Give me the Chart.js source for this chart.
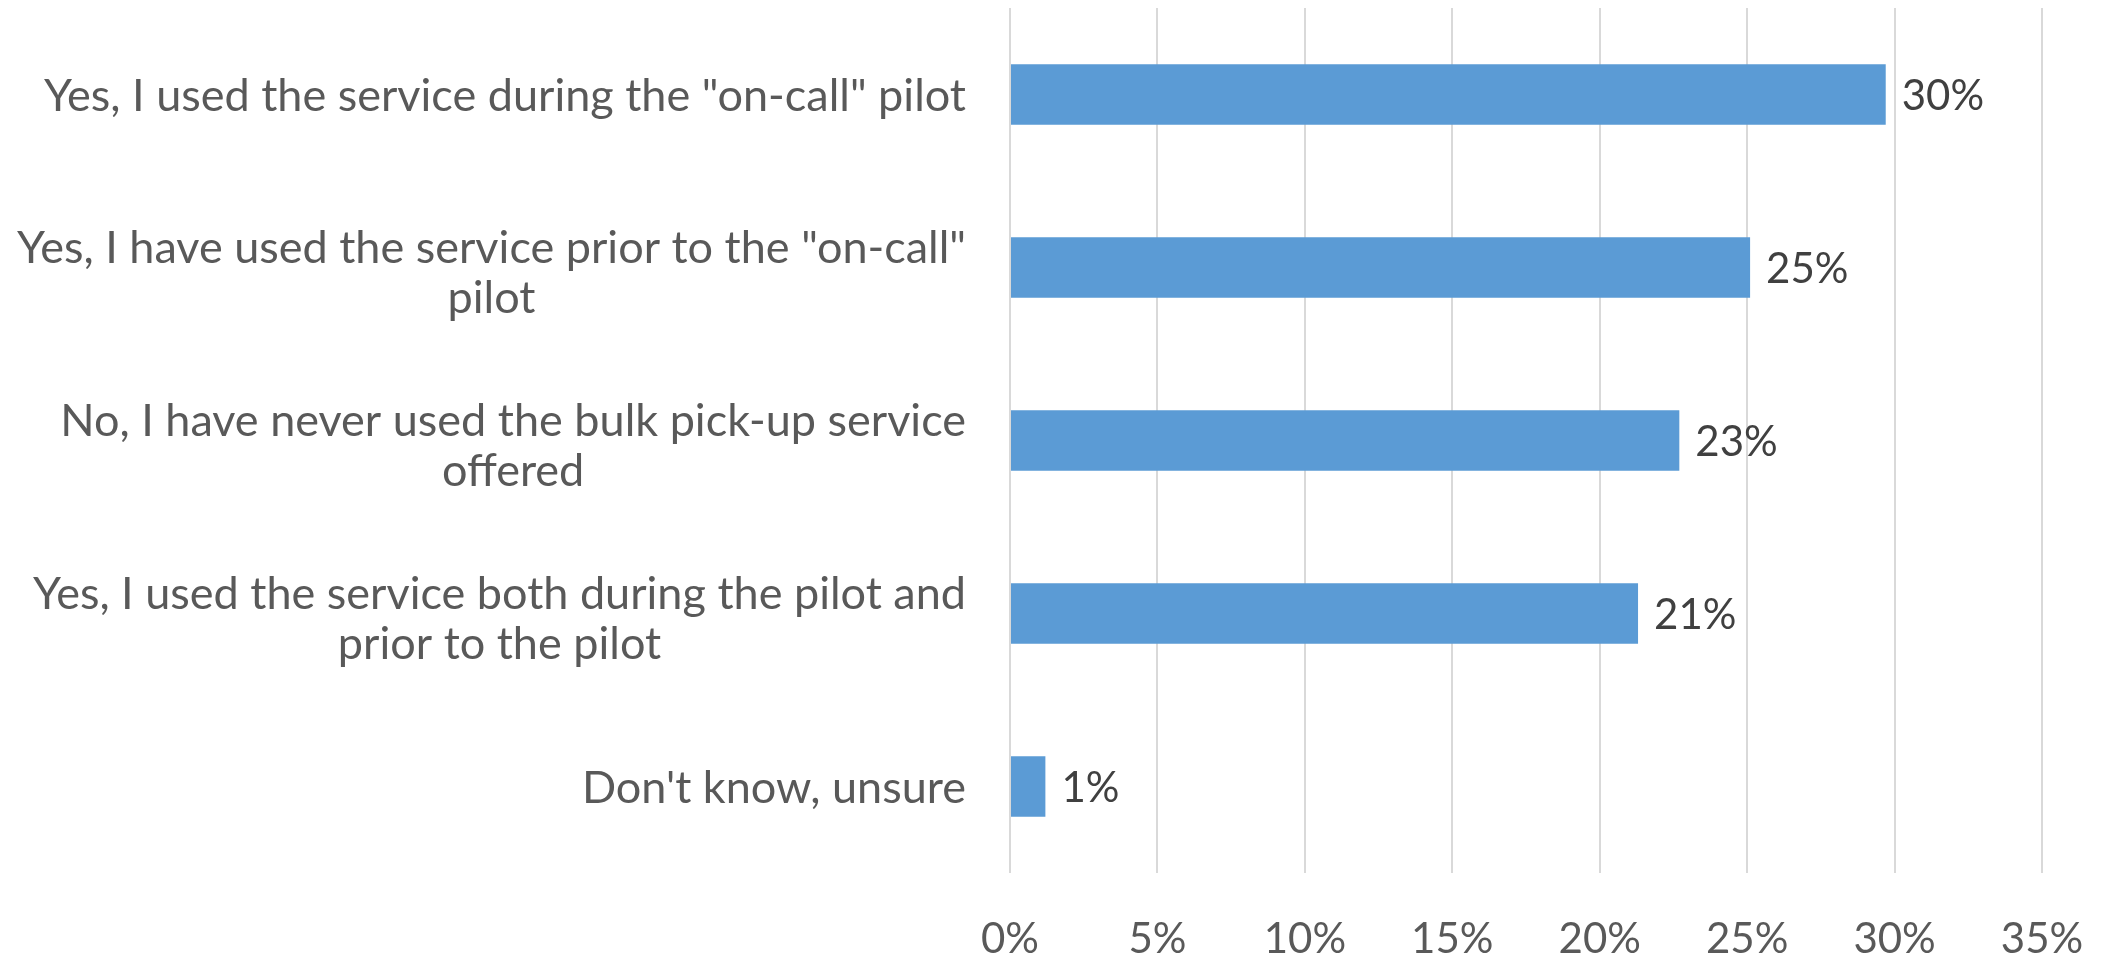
<!DOCTYPE html>
<html>
<head>
<meta charset="utf-8">
<script src="https://cdn.jsdelivr.net/npm/chart.js@4/dist/chart.umd.min.js"></script>
<style>
  html, body { margin: 0; padding: 0; background: #ffffff; }
  #wrap { width: 2110px; height: 954px; }
</style>
</head>
<body>
<div id="wrap"><canvas id="c" width="2110" height="954"></canvas></div>
<script>
// Survey answers (each entry holds the wrapped lines of one answer)
const categories = [
  ['Yes, I used the service during the "on-call" pilot'],
  ['Yes, I have used the service prior to the "on-call"', 'pilot'],
  ['No, I have never used the bulk pick-up service', 'offered'],
  ['Yes, I used the service both during the pilot and', 'prior to the pilot'],
  ["Don't know, unsure"]
];
// Share of respondents, percent
const shares = [29.7, 25.1, 22.7, 21.3, 1.2];
// Value axis ticks, percent
const xTicks = [0, 5, 10, 15, 20, 25, 30, 35];

const FONT = 'Lato, "Open Sans", sans-serif';
const FONT_SIZE = 42;
const CAT_FONT_SIZE = 45;

// Category labels: each block right-aligned next to the axis, lines centred within the block
const categoryLabels = {
  id: 'categoryLabels',
  afterDraw(chart) {
    const ctx = chart.ctx;
    const y = chart.scales.y;
    const right = y.right - 44;
    const lineH = 50;
    ctx.save();
    ctx.font = CAT_FONT_SIZE + 'px ' + FONT;
    ctx.fillStyle = '#595959';
    ctx.textAlign = 'center';
    ctx.textBaseline = 'middle';
    categories.forEach((lines, i) => {
      const cy = y.getPixelForValue(i);
      const widest = Math.max(...lines.map(l => ctx.measureText(l).width));
      const cx = right - widest / 2;
      const shift = lines.length > 1 ? 6 : 2;
      lines.forEach((line, j) => {
        ctx.fillText(line, cx, cy + shift + (j - (lines.length - 1) / 2) * lineH);
      });
    });
    ctx.restore();
  }
};

// Value labels at the end of each bar
const valueLabels = {
  id: 'valueLabels',
  afterDatasetsDraw(chart) {
    const ctx = chart.ctx;
    const meta = chart.getDatasetMeta(0);
    ctx.save();
    ctx.font = FONT_SIZE + 'px ' + FONT;
    ctx.fillStyle = '#404040';
    ctx.textAlign = 'left';
    ctx.textBaseline = 'middle';
    meta.data.forEach((bar, i) => {
      ctx.fillText(Math.round(shares[i]) + '%', bar.x + 16, bar.y + 2);
    });
    ctx.restore();
  }
};

new Chart(document.getElementById('c'), {
  type: 'bar',
  data: {
    labels: categories.map(l => l.join(' ')),
    datasets: [{
      data: shares,
      backgroundColor: '#5B9BD5',
      borderWidth: 0,
      barPercentage: 0.35,
      categoryPercentage: 1.0
    }]
  },
  options: {
    indexAxis: 'y',
    responsive: false,
    animation: false,
    layout: { padding: { top: 8, right: 68, left: 0, bottom: 0 } },
    plugins: {
      legend: { display: false },
      tooltip: { enabled: false }
    },
    scales: {
      x: {
        min: 0,
        max: 35,
        afterBuildTicks(scale) { scale.ticks = xTicks.map(v => ({ value: v })); },
        afterFit(scale) {
          scale.height = 81;
          scale.paddingLeft = 0;
          scale.paddingRight = 0;
        },
        grid: { color: '#D9D9D9', lineWidth: 2, drawTicks: false },
        border: { display: false },
        ticks: {
          padding: 41,
          color: '#595959',
          font: { family: FONT, size: FONT_SIZE },
          callback: v => v + '%'
        }
      },
      y: {
        afterFit(scale) { scale.width = 1010; },
        grid: { display: false },
        border: { display: false },
        ticks: { display: false }
      }
    }
  },
  plugins: [categoryLabels, valueLabels]
});
</script>
</body>
</html>
